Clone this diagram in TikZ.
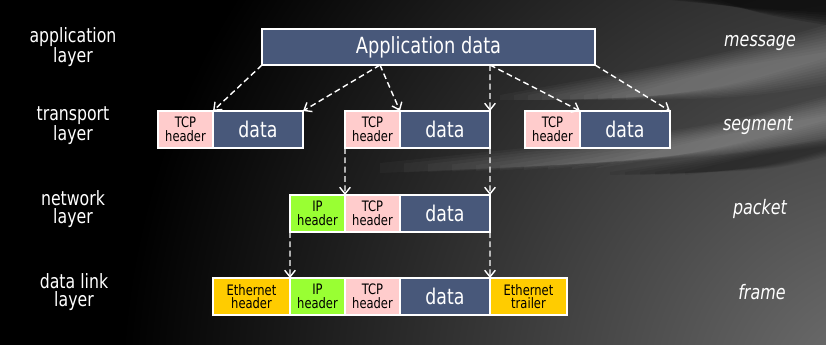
\documentclass[tikz,border=0pt]{standalone}
\usepackage{fontspec}
\setmainfont{DejaVu Sans}[FakeStretch=0.8]
\usepackage{tikz}
\usetikzlibrary{arrows.meta,positioning,calc}
\definecolor{pdslate}{RGB}{72,88,122}
\definecolor{pdpink}{RGB}{255,204,204}
\definecolor{pdgreen}{RGB}{153,255,51}
\definecolor{pdyellow}{RGB}{255,204,0}
\tikzstyle{arrow} = [line width=1.2pt,dash pattern=on 5pt off 3pt,-{Straight Barb[length=2mm,width=3.2mm]},color=white]
\tikzstyle{cell} = [rectangle, draw=white, line width=1.5pt, outer sep=0pt, inner sep=0pt, minimum height=11.1mm, text centered, align=center]
\tikzstyle{tcpbox} = [cell, fill=pdpink, minimum width=16.5mm, font=\fontsize{12.3}{11.6}\selectfont]
\tikzstyle{ipbox} = [cell, fill=pdgreen, minimum width=16.5mm, font=\fontsize{12.3}{11.6}\selectfont]
\tikzstyle{ethbox} = [cell, fill=pdyellow, minimum width=23.1mm, font=\fontsize{12.3}{11.6}\selectfont]
\tikzstyle{databox} = [cell, fill=pdslate, text=white, minimum width=27mm, font=\fontsize{18.5}{20}\selectfont]
\tikzstyle{layerlabel} = [text=white, align=center, font=\fontsize{16.8}{15.5}\selectfont]
\tikzstyle{unitlabel} = [text=white, font=\fontsize{17}{15}\selectfont\itshape]
\tikzstyle{haze} = [fill=white, opacity=0.03]

\begin{document}
\begin{tikzpicture}[x=0.3mm,y=-0.3mm]
\useasboundingbox (0,0) rectangle (826,345);
% backdrop: black with soft grey streaks to the right
\fill[black] (0,0) rectangle (826,345);
\begin{scope}
\clip (0,0) rectangle (826,345);
\shade[inner color=white!45!black, outer color=black] (880,400) circle[radius=760];
% bright streak
\foreach \i in {1,...,10}
  \fill[haze] (620-\i*24,168-\i*0.5) .. controls (700,140-\i) .. (826,118-\i*2.2) -- (826,118+\i*2.2) .. controls (720,148+\i) .. (620-\i*24,168+\i*0.5) -- cycle;
% upper haze
\foreach \i in {1,...,10}
  \fill[haze] (640-\i*14,95) .. controls (720,70-\i*1.5) .. (826,55-\i*3) -- (826,55+\i*3) .. controls (730,85+\i*1.5) .. (640-\i*14,100) -- cycle;
% dark band under the streak
\foreach \i in {1,...,6}
  \fill[black, opacity=0.07] (700-\i*15,172) .. controls (760,155-\i) .. (826,148-\i*1.5) -- (826,148+\i*1.5) .. controls (770,165+\i) .. (700-\i*15,175) -- cycle;
\foreach \i in {1,...,6}
  \fill[black, opacity=0.15] (660+\i*10,0) .. controls (760,8+\i) .. (826,10+\i*2.5) -- (826,0) -- cycle;
\end{scope}

% application layer
\node[databox, minimum width=99.9mm, minimum height=10.8mm, font=\fontsize{19}{20}\selectfont] (app) at (428.5,47) {Application data};
\coordinate (cut1) at (380,65);
\coordinate (cut2) at (490,65);

% transport layer
\node[tcpbox, anchor=west] (s1tcp) at (158,129.5) {TCP\\header};
\node[databox, right=0pt of s1tcp] (s1data) {data};
\node[tcpbox, anchor=west] (s2tcp) at (345,129.5) {TCP\\header};
\node[databox, right=0pt of s2tcp] (s2data) {data};
\node[tcpbox, anchor=west] (s3tcp) at (525,129.5) {TCP\\header};
\node[databox, right=0pt of s3tcp] (s3data) {data};

% network layer
\node[ipbox, anchor=west] (nip) at (290,213.5) {IP\\header};
\node[tcpbox, right=0pt of nip] (ntcp) {TCP\\header};
\node[databox, right=0pt of ntcp] (ndata) {data};

% data link layer
\node[ethbox, anchor=west] (leth) at (213,296.5) {Ethernet\\header};
\node[ipbox, right=0pt of leth] (lip) {IP\\header};
\node[tcpbox, right=0pt of lip] (ltcp) {TCP\\header};
\node[databox, right=0pt of ltcp] (ldata) {data};
\node[ethbox, right=0pt of ldata] (ltrail) {Ethernet\\trailer};

% labels
\node[layerlabel] (applbl) at (73,47) {application\\layer};
\node[layerlabel] (translbl) at (73,126) {transport\\layer};
\node[layerlabel] (netlbl) at (73,209) {network\\layer};
\node[layerlabel] (linklbl) at (74,292) {data link\\layer};
\node[unitlabel] (msg) at (760,43) {message};
\node[unitlabel] (seg) at (758,126) {segment};
\node[unitlabel] (pkt) at (760,209) {packet};
\node[unitlabel] (frm) at (762,292) {frame};

\draw[arrow] (app.south west) -- (s1tcp.north east);
\draw[arrow] (cut1) -- (s1data.north east);
\draw[arrow] (cut1) -- (s2tcp.north east);
\draw[arrow] (cut2) -- (s2data.north east);
\draw[arrow] (cut2) -- (s3tcp.north east);
\draw[arrow] (app.south east) -- (s3data.north east);
\draw[arrow] (s2tcp.south west) -- (ntcp.north west);
\draw[arrow] (s2data.south east) -- (ndata.north east);
\draw[arrow] (nip.south west) -- (lip.north west);
\draw[arrow] (ndata.south east) -- (ldata.north east);
\end{tikzpicture}
\end{document}
